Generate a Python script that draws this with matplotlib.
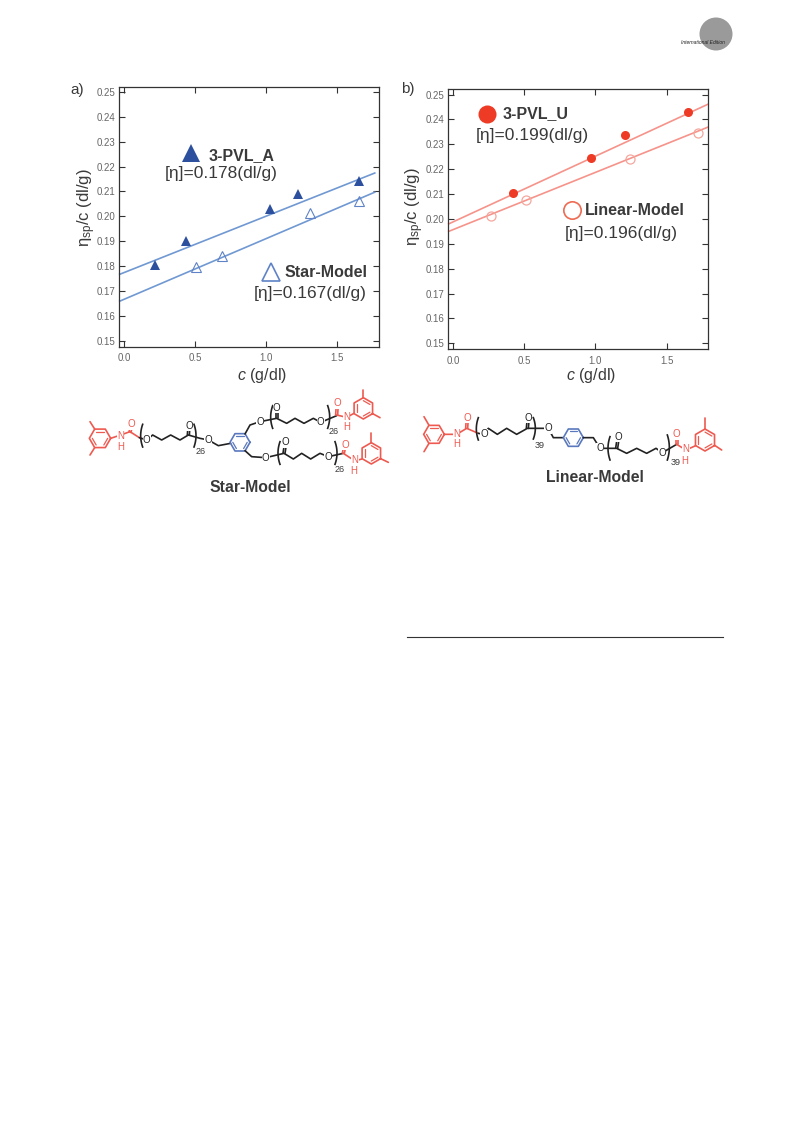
"""plot.py - reduced viscosity plots (a, b) with the two model structures below."""

import numpy as np
import matplotlib
matplotlib.use("Agg")
import matplotlib.pyplot as plt

plt.rcParams["font.family"] = ["Liberation Sans", "DejaVu Sans"]
plt.rcParams["mathtext.fontset"] = "custom"
plt.rcParams["mathtext.rm"] = "Liberation Sans"
plt.rcParams["mathtext.it"] = "Liberation Sans:italic"
plt.rcParams["mathtext.bf"] = "Liberation Sans:bold"
plt.rcParams["mathtext.default"] = "regular"

W, H = 793, 1121

# panel a
pvl_a_c = [0.22, 0.44, 1.03, 1.23, 1.66]
pvl_a_v = [0.1805, 0.1902, 0.2030, 0.2090, 0.2143]
star_c = [0.51, 0.69, 1.31, 1.66]
star_v = [0.1795, 0.1840, 0.2015, 0.2063]
pvl_a_fit_c = [-0.03, 1.77]
pvl_a_fit_v = [0.1767, 0.2174]
star_fit_c = [-0.03, 1.77]
star_fit_v = [0.1659, 0.2097]

# panel b
pvl_u_c = [0.42, 0.97, 1.21, 1.65]
pvl_u_v = [0.2103, 0.2243, 0.2338, 0.2431]
linear_c = [0.27, 0.51, 1.24, 1.72]
linear_v = [0.2010, 0.2075, 0.2240, 0.2347]
pvl_u_fit_c = [-0.03, 1.79]
pvl_u_fit_v = [0.1980, 0.2461]
linear_fit_c = [-0.03, 1.79]
linear_fit_v = [0.1950, 0.2369]

x_ticks = [0.0, 0.5, 1.0, 1.5]
y_ticks = [0.15, 0.16, 0.17, 0.18, 0.19, 0.20, 0.21, 0.22, 0.23, 0.24, 0.25]

TEXT = "#3a3a3a"
TICK = "#666666"
BLUE = "#2C4F9E"
BLUE_LINE = "#7098D2"
BLUE_OPEN = "#5F83C6"
RED = "#EE3B25"
RED_LINE = "#F6938A"
RED_OPEN = "#F4A79C"
RED_BIG_OPEN = "#EE6B52"
STRUCT_RED = "#EE5A50"
STRUCT_BLUE = "#5A78BE"


def px_axes(fig, left, top, right, bottom):
    return fig.add_axes([left / W, 1 - bottom / H, (right - left) / W, (bottom - top) / H])


def style_axes(ax, xlim, ylabel_pad, ylabel_y, xlabel_pad):
    ax.set_xlim(*xlim)
    ax.set_ylim(0.1476, 0.2521)
    ax.set_xticks(x_ticks)
    ax.set_yticks(y_ticks)
    ax.set_xticklabels([f"{t:.1f}" for t in x_ticks])
    ax.set_yticklabels([f"{t:.2f}" for t in y_ticks])
    ax.tick_params(direction="in", top=True, right=True, length=4, width=0.8,
                   labelsize=7, labelcolor=TICK, color="#333333", pad=3)
    ax.tick_params(axis="x", pad=4.5)
    for s in ax.spines.values():
        s.set_linewidth(0.9)
        s.set_color("#333333")
    ax.set_xlabel("$\\mathit{c}$ (g/dl)", fontsize=11.5, color=TEXT, labelpad=xlabel_pad, x=0.55)
    ax.set_ylabel("η$_{sp}$/c (dl/g)", fontsize=12, color=TEXT, labelpad=ylabel_pad, y=ylabel_y)


def note(ax, x, y, s, bold=False):
    ax.text(x, y, s, fontsize=11.5 if bold else 12.5, color=TEXT, va="center", ha="left",
            fontweight="bold" if bold else "normal")


def draw_panel_a(fig):
    ax = px_axes(fig, 119.3, 86.7, 379.3, 346.7)
    style_axes(ax, (-0.033, 1.802), -1, 0.535, 2)
    ax.plot(pvl_a_fit_c, pvl_a_fit_v, color=BLUE_LINE, lw=1.2, clip_on=False)
    ax.plot(star_fit_c, star_fit_v, color=BLUE_LINE, lw=1.2, clip_on=False)
    ax.plot(pvl_a_c, pvl_a_v, "^", color=BLUE, ms=7.5, mew=0)
    ax.plot(star_c, star_v, "^", mfc="none", mec=BLUE_OPEN, ms=7.5, mew=0.8)
    ax.plot([0.47], [0.2253], "^", color=BLUE, ms=13, mew=0)
    ax.plot([1.035], [0.1775], "^", mfc="none", mec=BLUE_OPEN, ms=13, mew=1.2)
    note(ax, 0.595, 0.2245, "3-PVL_A", bold=True)
    note(ax, 0.29, 0.2172, "[η]=0.178(dl/g)")
    note(ax, 1.13, 0.1776, "Star-Model", bold=True)
    note(ax, 0.913, 0.1688, "[η]=0.167(dl/g)")


def draw_panel_b(fig):
    ax = px_axes(fig, 448.3, 89.3, 707.7, 349.3)
    style_axes(ax, (-0.033, 1.788), -0.5, 0.55, 0)
    ax.plot(pvl_u_fit_c, pvl_u_fit_v, color=RED_LINE, lw=1.2, clip_on=False)
    ax.plot(linear_fit_c, linear_fit_v, color=RED_LINE, lw=1.2, clip_on=False)
    ax.plot(pvl_u_c, pvl_u_v, "o", color=RED, ms=6.5, mew=0)
    ax.plot(linear_c, linear_v, "o", mfc="none", mec=RED_OPEN, ms=6.5, mew=0.9)
    ax.plot([0.236], [0.2422], "o", color=RED, ms=13, mew=0)
    ax.plot([0.838], [0.2036], "o", mfc="none", mec=RED_BIG_OPEN, ms=12.5, mew=1.2)
    note(ax, 0.349, 0.2425, "3-PVL_U", bold=True)
    note(ax, 0.159, 0.2335, "[η]=0.199(dl/g)")
    note(ax, 0.927, 0.2033, "Linear-Model", bold=True)
    note(ax, 0.786, 0.1942, "[η]=0.196(dl/g)")


def chain(ax, pts, color="#222222", lw=1.2):
    xs, ys = zip(*pts)
    ax.plot(xs, ys, color=color, lw=lw, solid_capstyle="round", solid_joinstyle="round")


def ring(ax, cx, cy, r, flat_top, color):
    start = 0 if flat_top else 30
    ang = np.radians(start + 60 * np.arange(7))
    xs = cx + r * np.cos(ang)
    ys = cy + r * np.sin(ang)
    ax.plot(xs, ys, color=color, lw=1.2, solid_joinstyle="round")
    for i in (0, 2, 4):
        chain(ax, [(cx + 0.72 * r * np.cos(ang[i]), cy + 0.72 * r * np.sin(ang[i])),
                   (cx + 0.72 * r * np.cos(ang[i + 1]), cy + 0.72 * r * np.sin(ang[i + 1]))],
              color=color, lw=0.9)


def atom(ax, x, y, s, color="#222222", size=7):
    ax.text(x, y, s, color=color, fontsize=size, ha="center", va="center",
            bbox=dict(facecolor="white", edgecolor="none", pad=0.2))


def bracket(ax, x, y0, y1, left=True):
    # shallow paren drawn as an arc, opening towards the repeat unit
    t = np.linspace(-1, 1, 20)
    bow = -6 if left else 6
    ax.plot(x + bow * (1 - t ** 2), (y0 + y1) / 2 + t * (y1 - y0) / 2, color="#222222", lw=1.2)


def carbonyl(ax, x, y, ox, oy, color="#222222"):
    dx, dy = ox - x, oy - y
    n = np.hypot(dx, dy)
    nx, ny = -dy / n * 3, dx / n * 3
    chain(ax, [(x + nx, y + ny), (ox + nx, oy + ny)], color=color)
    chain(ax, [(x - nx, y - ny), (ox - nx, oy - ny)], color=color)
    atom(ax, ox, oy, "O", color=color)


def draw_star(fig):
    # structure axes use the pixel grid of a 3x enlarged crop
    ax = px_axes(fig, 80, 385, 400, 505)
    ax.set_xlim(0, 960)
    ax.set_ylim(360, 0)
    ax.axis("off")
    # left cap
    ring(ax, 60, 160, 32, True, STRUCT_RED)
    chain(ax, [(30, 110), (44, 132)], STRUCT_RED)
    chain(ax, [(30, 210), (44, 188)], STRUCT_RED)
    chain(ax, [(92, 160), (122, 150), (150, 140), (178, 158)], STRUCT_RED)
    carbonyl(ax, 150, 142, 155, 118, STRUCT_RED)
    atom(ax, 122, 153, "N", STRUCT_RED)
    atom(ax, 122, 187, "H", STRUCT_RED)
    # left arm
    chain(ax, [(178, 158), (200, 165), (218, 150), (245, 165), (272, 150), (300, 165), (325, 150), (360, 160), (385, 165), (415, 182), (452, 175)])
    carbonyl(ax, 325, 150, 327, 122)
    atom(ax, 200, 165, "O")
    atom(ax, 385, 165, "O")
    bracket(ax, 188, 118, 186)
    bracket(ax, 342, 118, 186, left=False)
    ax.text(362, 200, "26", fontsize=6.5, color=TEXT, ha="center", va="center")
    # core
    ring(ax, 480, 172, 30, True, STRUCT_BLUE)
    # upper arm
    chain(ax, [(495, 147), (510, 120), (540, 110), (590, 100), (620, 115), (645, 100), (672, 115), (700, 100), (722, 112), (770, 92)])
    carbonyl(ax, 590, 100, 590, 68)
    atom(ax, 540, 110, "O")
    atom(ax, 722, 112, "O")
    bracket(ax, 578, 62, 130)
    bracket(ax, 743, 62, 130, left=False)
    ax.text(762, 140, "26", fontsize=6.5, color=TEXT, ha="center", va="center")
    carbonyl(ax, 770, 90, 772, 55, STRUCT_RED)
    chain(ax, [(770, 90), (800, 97), (822, 85)], STRUCT_RED)
    atom(ax, 800, 95, "N", STRUCT_RED)
    atom(ax, 800, 127, "H", STRUCT_RED)
    ring(ax, 850, 70, 32, False, STRUCT_RED)
    chain(ax, [(850, 38), (850, 14)], STRUCT_RED)
    chain(ax, [(878, 86), (900, 98)], STRUCT_RED)
    # lower arm
    chain(ax, [(495, 197), (515, 215), (557, 218), (612, 205), (640, 222), (665, 205), (692, 222), (720, 205), (745, 215), (790, 205)])
    carbonyl(ax, 612, 205, 617, 172)
    atom(ax, 557, 218, "O")
    atom(ax, 745, 215, "O")
    bracket(ax, 600, 170, 238)
    bracket(ax, 765, 170, 238, left=False)
    ax.text(778, 252, "26", fontsize=6.5, color=TEXT, ha="center", va="center")
    carbonyl(ax, 790, 205, 795, 180, STRUCT_RED)
    chain(ax, [(790, 205), (825, 228), (845, 222)], STRUCT_RED)
    atom(ax, 825, 226, "N", STRUCT_RED)
    atom(ax, 822, 258, "H", STRUCT_RED)
    ring(ax, 874, 205, 32, False, STRUCT_RED)
    chain(ax, [(874, 173), (874, 143)], STRUCT_RED)
    chain(ax, [(902, 221), (925, 232)], STRUCT_RED)
    ax.text(510, 308, "Star-Model", fontsize=11.3, fontweight="bold", color=TEXT,
            ha="center", va="center")


def draw_linear(fig):
    ax = px_axes(fig, 410, 385, 730, 505)
    ax.set_xlim(0, 960)
    ax.set_ylim(360, 0)
    ax.axis("off")
    # left cap
    ring(ax, 72, 148, 31, True, STRUCT_RED)
    chain(ax, [(42, 95), (57, 121)], STRUCT_RED)
    chain(ax, [(42, 200), (57, 175)], STRUCT_RED)
    chain(ax, [(103, 148), (140, 148), (170, 130), (205, 145)], STRUCT_RED)
    carbonyl(ax, 170, 130, 172, 98, STRUCT_RED)
    atom(ax, 140, 146, "N", STRUCT_RED)
    atom(ax, 140, 178, "H", STRUCT_RED)
    # left repeat unit
    chain(ax, [(205, 145), (222, 148), (235, 130), (262, 148), (290, 130), (320, 148), (352, 130), (385, 130), (415, 130), (430, 158), (460, 158)])
    carbonyl(ax, 352, 130, 355, 98)
    atom(ax, 222, 148, "O")
    atom(ax, 415, 130, "O")
    bracket(ax, 205, 98, 165)
    bracket(ax, 370, 98, 162, left=False)
    ax.text(390, 183, "39", fontsize=6.5, color=TEXT, ha="center", va="center")
    # core
    ring(ax, 490, 158, 30, True, STRUCT_BLUE)
    # right repeat unit
    chain(ax, [(520, 158), (550, 158), (570, 190), (620, 190), (650, 205), (680, 190), (710, 205), (738, 190), (757, 203), (800, 178)])
    carbonyl(ax, 620, 190, 625, 155)
    atom(ax, 570, 190, "O")
    atom(ax, 757, 203, "O")
    bracket(ax, 600, 155, 225)
    bracket(ax, 772, 150, 225, left=False)
    ax.text(797, 232, "39", fontsize=6.5, color=TEXT, ha="center", va="center")
    # right cap
    carbonyl(ax, 800, 178, 800, 148, STRUCT_RED)
    chain(ax, [(800, 178), (828, 195), (857, 182)], STRUCT_RED)
    atom(ax, 828, 193, "N", STRUCT_RED)
    atom(ax, 825, 227, "H", STRUCT_RED)
    ring(ax, 885, 165, 33, False, STRUCT_RED)
    chain(ax, [(885, 132), (885, 100)], STRUCT_RED)
    chain(ax, [(914, 181), (935, 195)], STRUCT_RED)
    ax.text(555, 276, "Linear-Model", fontsize=11.3, fontweight="bold", color=TEXT,
            ha="center", va="center")


def draw_page(fig):
    page = fig.add_axes([0, 0, 1, 1], zorder=-1)
    page.set_xlim(0, W)
    page.set_ylim(H, 0)
    page.axis("off")
    page.add_patch(plt.Circle((716, 34), 16.5, color="#9a9a9a", lw=0))
    page.text(703, 42, "International Edition", fontsize=3.6, style="italic", color="#222222",
              ha="center", va="center")
    page.plot([407, 723], [637, 637], color="#333333", lw=0.8)
    page.text(70, 90, "a)", fontsize=11, color=TEXT, va="center")
    page.text(401, 89, "b)", fontsize=11, color=TEXT, va="center")


fig = plt.figure(figsize=(W / 100, H / 100), dpi=100)
draw_page(fig)
draw_panel_a(fig)
draw_panel_b(fig)
draw_star(fig)
draw_linear(fig)
fig.savefig("out.png", dpi=100)
plt.close(fig)
print("Saved: out.png")
